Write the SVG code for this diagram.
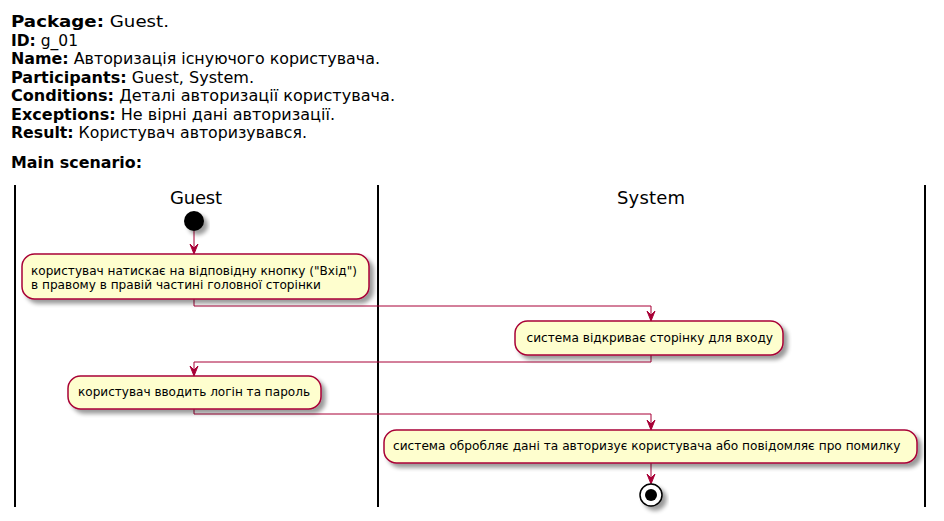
<svg xmlns="http://www.w3.org/2000/svg" width="944" height="521" viewBox="0 0 944 521">
<style>
text{font-family:"DejaVu Sans",sans-serif;fill:#000}
.h{font-size:15px}
.b{font-weight:bold}
.lane{stroke:#000;stroke-width:2}
.act{fill:#FEFECE;stroke:#A80036;stroke-width:1.5}
.t{font-size:12.3px}
.c{fill:none;stroke:#A80036;stroke-width:1}
.ah{fill:#A80036;stroke:#A80036;stroke-width:1}
</style>
<defs>
<filter id="sh" x="-20%" y="-20%" width="150%" height="160%">
<feGaussianBlur in="SourceAlpha" stdDeviation="2"/>
<feOffset dx="4" dy="4" result="b"/>
<feComponentTransfer><feFuncA type="linear" slope="0.4"/></feComponentTransfer>
<feMerge><feMergeNode/><feMergeNode in="SourceGraphic"/></feMerge>
</filter>
</defs>
<g id="header">
<text x="11" y="27" style="font-size:16.5px" textLength="158" lengthAdjust="spacingAndGlyphs"><tspan class="b">Package:</tspan> Guest.</text>
<text class="h" x="11" y="46" textLength="67" lengthAdjust="spacingAndGlyphs"><tspan class="b">ID:</tspan> g_01</text>
<text class="h" x="11" y="64" textLength="369" lengthAdjust="spacingAndGlyphs"><tspan class="b">Name:</tspan> Авторизація існуючого користувача.</text>
<text class="h" x="11" y="83" textLength="243" lengthAdjust="spacingAndGlyphs"><tspan class="b">Participants:</tspan> Guest, System.</text>
<text class="h" x="11" y="101" textLength="384" lengthAdjust="spacingAndGlyphs"><tspan class="b">Conditions:</tspan> Деталі авторизації користувача.</text>
<text class="h" x="11" y="120" textLength="324" lengthAdjust="spacingAndGlyphs"><tspan class="b">Exceptions:</tspan> Не вірні дані авторизації.</text>
<text class="h" x="11" y="138" textLength="296" lengthAdjust="spacingAndGlyphs"><tspan class="b">Result:</tspan> Користувач авторизувався.</text>
<text class="h b" x="11" y="168" textLength="131" lengthAdjust="spacingAndGlyphs">Main scenario:</text>
</g>
<g id="lanes">
<line class="lane" x1="15" y1="185" x2="15" y2="507"/>
<line class="lane" x1="378" y1="185" x2="378" y2="507"/>
<line class="lane" x1="925" y1="185" x2="925" y2="507"/>
<text x="170" y="204" style="font-size:18px" textLength="52" lengthAdjust="spacing">Guest</text>
<text x="617" y="204" style="font-size:18px" textLength="68" lengthAdjust="spacing">System</text>
</g>
<g id="connectors">
<path class="c" d="M194,231 V253"/>
<path class="ah" d="M190,244 L194,254 L198,244 L194,248 Z"/>
<path class="c" d="M194,299 V306 H651 V320"/>
<path class="ah" d="M647,311 L651,321 L655,311 L651,315 Z"/>
<path class="c" d="M651,355 V362 H194 V375"/>
<path class="ah" d="M190,366 L194,376 L198,366 L194,370 Z"/>
<path class="c" d="M194,409 V414 H651 V429"/>
<path class="ah" d="M647,420 L651,430 L655,420 L651,424 Z"/>
<path class="c" d="M651,463 V483"/>
<path class="ah" d="M647,474 L651,484 L655,474 L651,478 Z"/>
</g>
<g id="start">
<circle cx="194" cy="221" r="10" fill="#000" filter="url(#sh)"/>
</g>
<g id="a1">
<rect class="act" x="22" y="254" width="347" height="45" rx="12.5" filter="url(#sh)"/>
<text class="t" x="31" y="275" textLength="326" lengthAdjust="spacingAndGlyphs">користувач натискає на відповідну кнопку ("Вхід")</text>
<text class="t" x="31" y="289" textLength="290" lengthAdjust="spacingAndGlyphs">в правому в правій частині головної сторінки</text>
</g>
<g id="a2">
<rect class="act" x="515" y="321" width="268" height="34" rx="12.5" filter="url(#sh)"/>
<text class="t" x="526.5" y="342" textLength="246.5" lengthAdjust="spacingAndGlyphs">система відкриває сторінку для входу</text>
</g>
<g id="a3">
<rect class="act" x="68" y="376" width="253" height="33" rx="12.5" filter="url(#sh)"/>
<text class="t" x="78" y="396" textLength="232" lengthAdjust="spacingAndGlyphs">користувач вводить логін та пароль</text>
</g>
<g id="a4">
<rect class="act" x="384" y="430" width="533" height="33" rx="12.5" filter="url(#sh)"/>
<text class="t" x="393" y="450" textLength="507.5" lengthAdjust="spacingAndGlyphs">система обробляє дані та авторизує користувача або повідомляє про помилку</text>
</g>
<g id="end">
<circle cx="651" cy="495" r="11" fill="#fff" stroke="#000" stroke-width="1.5" filter="url(#sh)"/>
<circle cx="651" cy="495" r="6" fill="#000"/>
</g>
</svg>
